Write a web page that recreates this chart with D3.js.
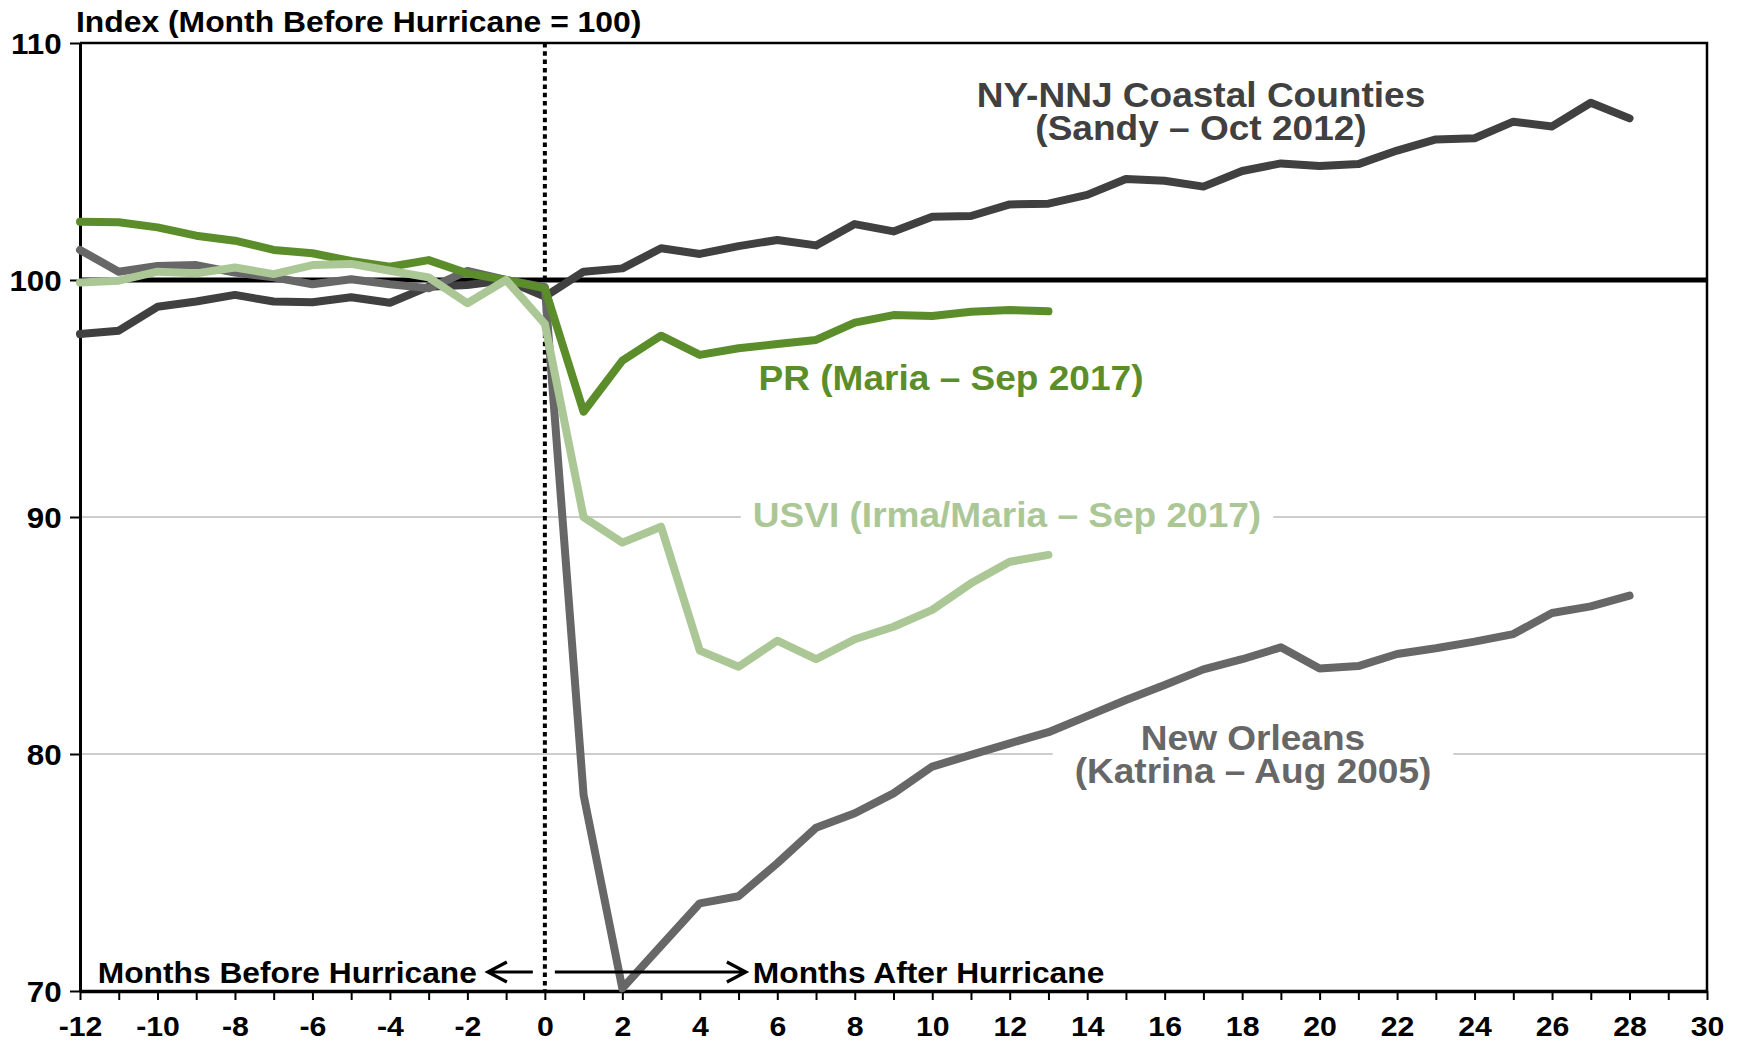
<!DOCTYPE html>
<html>
<head>
<meta charset="utf-8">
<script src="https://cdn.jsdelivr.net/npm/d3@7"></script>
<style>
  html, body { margin: 0; padding: 0; background: #fff; }
  svg { display: block; font-family: "Liberation Sans", Arial, sans-serif; font-weight: bold; }
</style>
</head>
<body>
<script>
// months relative to the hurricane
const months = [-12, -11, -10, -9, -8, -7, -6, -5, -4, -3, -2, -1, 0, 1, 2, 3, 4, 5, 6, 7, 8, 9,
  10, 11, 12, 13, 14, 15, 16, 17, 18, 19, 20, 21, 22, 23, 24, 25, 26, 27, 28];

// index values, month before hurricane = 100
const nyNnj = [97.72, 97.86, 98.87, 99.09, 99.37, 99.09, 99.06, 99.27, 99.04, 99.72, 99.79, 100.0,
  99.3, 100.35, 100.49, 101.34, 101.10, 101.43, 101.69, 101.46, 102.36, 102.05, 102.67, 102.70,
  103.19, 103.22, 103.59, 104.26, 104.19, 103.94, 104.6, 104.92, 104.81, 104.89, 105.46, 105.93,
  105.98, 106.68, 106.48, 107.48, 106.82];
const newOrleans = [101.27, 100.35, 100.59, 100.63, 100.31, 100.11, 99.82, 100.03, 99.82, 99.65,
  100.38, 100.0, 99.7, 78.27, 70.11, 71.91, 73.70, 74.0, 75.39, 76.89, 77.5, 78.34, 79.47, 79.96,
  80.45, 80.92, 81.6, 82.28, 82.91, 83.57, 84.0, 84.5, 83.61, 83.71, 84.22, 84.46, 84.74, 85.06,
  85.95, 86.23, 86.68];
const puertoRico = [102.46, 102.44, 102.22, 101.87, 101.66, 101.27, 101.13, 100.80, 100.56, 100.84,
  100.28, 100.0, 99.65, 94.44, 96.6, 97.65, 96.84, 97.12, 97.3, 97.47, 98.2, 98.52, 98.48, 98.66,
  98.73, 98.68];
const usvi = [99.89, 99.97, 100.35, 100.28, 100.53, 100.25, 100.63, 100.68, 100.39, 100.11, 99.02,
  100.0, 98.15, 89.99, 88.92, 89.59, 84.36, 83.68, 84.78, 84.0, 84.84, 85.37, 86.08, 87.2, 88.11,
  88.4];

// axis ticks
const xTicks = [-12, -11, -10, -9, -8, -7, -6, -5, -4, -3, -2, -1, 0, 1, 2, 3, 4, 5, 6, 7, 8, 9, 10,
  11, 12, 13, 14, 15, 16, 17, 18, 19, 20, 21, 22, 23, 24, 25, 26, 27, 28, 29, 30];
const yTicks = [70, 80, 90, 100, 110];
const gridValues = [80, 90];

const title = "Index (Month Before Hurricane = 100)";
const beforeText = "Months Before Hurricane";
const afterText = "Months After Hurricane";

const width = 1744;
const height = 1043;
const margin = { top: 43, right: 37, bottom: 52, left: 80 };
const stretch = 1.08; // text in the original is a bit wider than Arial

const x = d3.scaleLinear().domain([-12, 30]).range([margin.left, width - margin.right]);
const y = d3.scaleLinear().domain([70, 110]).range([height - margin.bottom, margin.top]);

const svg = d3.select("body").append("svg")
  .attr("width", width)
  .attr("height", height);

// text helper: anchor at (px, py), widen glyphs a little
function label(parent, px, py, str, size, fill, anchor) {
  return parent.append("text")
    .attr("transform", `translate(${px},${py}) scale(${stretch},1)`)
    .attr("text-anchor", anchor || "middle")
    .attr("font-size", size)
    .attr("fill", fill)
    .text(str);
}

// light gridlines
svg.append("g").selectAll("line")
  .data(gridValues)
  .join("line")
  .attr("x1", x(-12)).attr("x2", x(30))
  .attr("y1", d => y(d)).attr("y2", d => y(d))
  .attr("stroke", "#bdbdbd")
  .attr("stroke-width", 1.5);

// frame (top / right)
svg.append("path")
  .attr("d", `M${x(-12)},${y(110)}H${x(30)}V${y(70)}`)
  .attr("fill", "none")
  .attr("stroke", "#000")
  .attr("stroke-width", 2.5);

// x axis
const xAxis = svg.append("g")
  .attr("transform", `translate(0,${y(70)})`)
  .call(d3.axisBottom(x).tickValues(xTicks).tickSize(9).tickSizeOuter(0)
    .tickFormat(d => d % 2 === 0 ? d : ""));
xAxis.select(".domain").attr("stroke-width", 3.5);
xAxis.selectAll(".tick line").attr("stroke-width", 2);
xAxis.selectAll(".tick text")
  .attr("font-size", 28)
  .attr("font-family", "Liberation Sans, Arial, sans-serif")
  .attr("font-weight", "bold")
  .attr("fill", "#000")
  .attr("dy", null)
  .attr("y", 45)
  .attr("transform", `scale(${stretch},1)`);

// y axis
const yAxis = svg.append("g")
  .attr("transform", `translate(${x(-12)},0)`)
  .call(d3.axisLeft(y).tickValues(yTicks).tickSize(10).tickSizeOuter(0));
yAxis.select(".domain").attr("stroke-width", 3);
yAxis.selectAll(".tick line").attr("stroke-width", 2);
yAxis.selectAll(".tick text")
  .attr("font-size", 29)
  .attr("font-family", "Liberation Sans, Arial, sans-serif")
  .attr("font-weight", "bold")
  .attr("fill", "#000")
  .attr("x", -17)
  .attr("dy", "0.36em")
  .attr("transform", `scale(${stretch},1)`);

// title
label(svg, 76, 32, title, 29.5, "#000", "start");

// series labels with white boxes that break the gridlines
const seriesLabels = [
  { lines: ["NY-NNJ Coastal Counties", "(Sandy \u2013 Oct 2012)"], color: "#404040", cx: 1201, by: 107, pad: 0 },
  { lines: ["PR (Maria \u2013 Sep 2017)"], color: "#5b8e2a", cx: 951, by: 390, pad: 0 },
  { lines: ["USVI (Irma/Maria \u2013 Sep 2017)"], color: "#abc796", cx: 1007, by: 527, pad: 12 },
  { lines: ["New Orleans", "(Katrina \u2013 Aug 2005)"], color: "#676767", cx: 1253, by: 750, pad: 22 }
];

const boxLayer = svg.append("g");

// reference line at 100 and hurricane month
const refLayer = svg.append("g");
refLayer.append("line")
  .attr("x1", x(-12)).attr("x2", x(30))
  .attr("y1", y(100)).attr("y2", y(100))
  .attr("stroke", "#000")
  .attr("stroke-width", 5);
refLayer.append("line")
  .attr("x1", x(0)).attr("x2", x(0))
  .attr("y1", y(110)).attr("y2", y(70))
  .attr("stroke", "#000")
  .attr("stroke-width", 4)
  .attr("stroke-dasharray", "4.5,3.8");

// series
const line = d3.line()
  .x((d, i) => x(months[i]))
  .y(d => y(d));

const series = [
  { values: nyNnj, color: "#404040" },
  { values: newOrleans, color: "#676767" },
  { values: puertoRico, color: "#5b8e2a" },
  { values: usvi, color: "#abc796" }
];

svg.append("g").selectAll("path")
  .data(series)
  .join("path")
  .attr("d", d => line(d.values))
  .attr("fill", "none")
  .attr("stroke", d => d.color)
  .attr("stroke-width", 8)
  .attr("stroke-linejoin", "round")
  .attr("stroke-linecap", "round");

// label text on top
const labelLayer = svg.append("g");
seriesLabels.forEach(s => {
  const g = labelLayer.append("g");
  s.lines.forEach((t, i) => label(g, s.cx, s.by + i * 33, t, 34.3, s.color));
  if (s.pad) {
    const b = g.node().getBBox();
    boxLayer.append("rect")
      .attr("x", b.x - s.pad).attr("y", b.y)
      .attr("width", b.width + 2 * s.pad).attr("height", b.height)
      .attr("fill", "#fff");
  }
});

// before / after arrows
const arrowY = 972;
const ann = svg.append("g");
function arrow(x1, x2) {
  const dir = Math.sign(x2 - x1);
  ann.append("path")
    .attr("d", `M${x1},${arrowY}H${x2}M${x2 - dir * 19},${arrowY - 10}L${x2},${arrowY}L${x2 - dir * 19},${arrowY + 10}`)
    .attr("fill", "none")
    .attr("stroke", "#000")
    .attr("stroke-width", 3.2);
}
arrow(x(0) - 12, x(0) - 57);
arrow(x(0) + 10, x(0) + 201);
label(ann, x(0) - 68, arrowY + 11, beforeText, 29.4, "#000", "end");
label(ann, x(0) + 208, arrowY + 11, afterText, 29.4, "#000", "start");
</script>
</body>
</html>
